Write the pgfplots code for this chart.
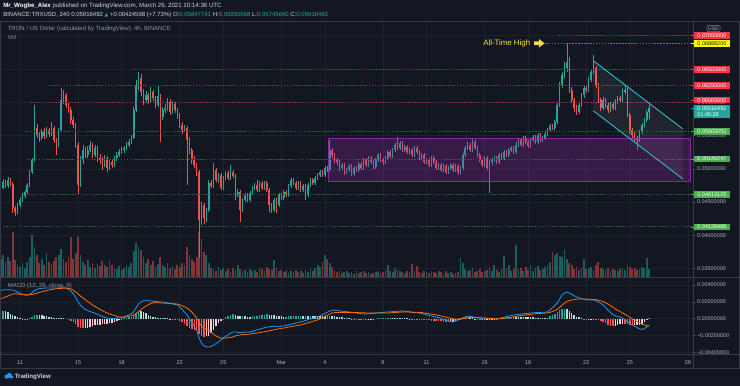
\documentclass[border=0pt]{standalone}
\usepackage{pgfplots}
\usepackage{pgfplotstable}
\pgfplotsset{compat=1.18}
\usepackage{fontspec}
\setmainfont{Liberation Sans}
\newfontfamily\dejavu{DejaVu Sans}

\definecolor{bg}{HTML}{131722}
\definecolor{gridc}{HTML}{1E222D}
\definecolor{bord}{HTML}{363A45}
\definecolor{txt}{HTML}{B2B5BE}
\definecolor{hdr}{HTML}{D1D4DC}
\definecolor{tickc}{HTML}{787B86}
\definecolor{upc}{HTML}{26A69A}
\definecolor{dnc}{HTML}{EF5350}
\definecolor{upv}{HTML}{1C5E5E}
\definecolor{dnv}{HTML}{813539}
\definecolor{macdc}{HTML}{2196F3}
\definecolor{sigc}{HTML}{FF6D00}
\definecolor{hza}{HTML}{26A69A}
\definecolor{hzb}{HTML}{B2DFDB}
\definecolor{hzc}{HTML}{FF5252}
\definecolor{hzd}{HTML}{FFCDD2}
\definecolor{redl}{HTML}{8B2E36}
\definecolor{grnl}{HTML}{2F5E3D}
\definecolor{ylwl}{HTML}{7A7A2A}
\definecolor{tagr}{HTML}{F23645}
\definecolor{tagg}{HTML}{4CAF50}
\definecolor{tagy}{HTML}{FFFF00}
\definecolor{cyanl}{HTML}{2DB7C9}
\definecolor{purp}{HTML}{9C27B0}
\definecolor{ylw}{HTML}{F2E33A}
\definecolor{logoc}{HTML}{2196F3}

\newcommand\sm{\fontsize{4.1}{5}\selectfont}

% o h l c = 4h candle (price), v = volume bar height (px), m = MACD, s = signal, k = histogram colour class
\pgfplotstableread{
o h l c v m s k
0.04757 0.04802 0.04667 0.04712 18 0.00335 0.00240 1
0.04712 0.04847 0.04690 0.04802 22 0.00342 0.00246 0
0.04802 0.04832 0.04712 0.04742 15 0.00345 0.00258 1
0.04742 0.04877 0.04712 0.04832 20 0.00345 0.00270 1
0.04832 0.04862 0.04742 0.04772 16 0.00343 0.00282 1
0.04772 0.04802 0.04337 0.04412 45 0.00342 0.00294 1
0.04412 0.04442 0.04292 0.04352 17 0.00330 0.00296 1
0.04352 0.04487 0.04322 0.04457 12 0.00315 0.00295 1
0.04457 0.04577 0.04427 0.04532 10 0.00300 0.00292 1
0.04532 0.04637 0.04502 0.04592 14 0.00290 0.00289 1
0.04592 0.04682 0.04562 0.04652 9 0.00282 0.00286 2
0.04652 0.04787 0.04622 0.04757 15 0.00280 0.00283 3
0.04757 0.04983 0.04727 0.04953 20 0.00290 0.00285 0
0.04953 0.05163 0.04923 0.05133 42 0.00310 0.00290 0
0.05133 0.05959 0.05103 0.05614 30 0.00335 0.00296 0
0.05614 0.05674 0.05463 0.05508 22 0.00350 0.00304 0
0.05508 0.05553 0.05403 0.05463 14 0.00358 0.00312 1
0.05463 0.05598 0.05433 0.05553 18 0.00362 0.00320 1
0.05553 0.05614 0.05448 0.05493 12 0.00364 0.00328 1
0.05493 0.05629 0.05463 0.05584 24 0.00366 0.00335 1
0.05584 0.05614 0.05478 0.05523 15 0.00366 0.00342 1
0.05523 0.05704 0.05493 0.05614 13 0.00366 0.00348 1
0.05614 0.05644 0.05388 0.05433 16 0.00365 0.00353 1
0.05433 0.05463 0.05208 0.05358 20 0.00366 0.00356 1
0.05358 0.05614 0.05328 0.05584 22 0.00366 0.00359 1
0.05584 0.06214 0.05553 0.06034 28 0.00368 0.00361 1
0.06034 0.06184 0.05974 0.06109 18 0.00368 0.00363 1
0.06109 0.06139 0.05914 0.05959 15 0.00365 0.00365 1
0.05959 0.06004 0.05839 0.05884 20 0.00350 0.00362 2
0.05884 0.05929 0.05674 0.05734 40 0.00330 0.00355 2
0.05734 0.05779 0.05614 0.05659 18 0.00300 0.00340 2
0.05659 0.05689 0.05313 0.05358 24 0.00250 0.00318 2
0.05358 0.05403 0.04607 0.04757 40 0.00200 0.00295 2
0.04757 0.05193 0.04727 0.05133 22 0.00160 0.00270 2
0.05133 0.05358 0.05073 0.05283 15 0.00130 0.00246 2
0.05283 0.05328 0.05163 0.05208 12 0.00110 0.00225 3
0.05208 0.05343 0.05163 0.05283 17 0.00095 0.00205 3
0.05283 0.05418 0.05253 0.05358 10 0.00085 0.00183 3
0.05358 0.05388 0.05163 0.05208 14 0.00075 0.00163 3
0.05208 0.05358 0.05178 0.05313 9 0.00066 0.00145 3
0.05313 0.05343 0.05103 0.05163 13 0.00052 0.00128 3
0.05163 0.05223 0.05073 0.05133 11 0.00040 0.00112 3
0.05133 0.05178 0.04983 0.05058 16 0.00028 0.00097 3
0.05058 0.05208 0.05028 0.05163 12 0.00016 0.00082 3
0.05163 0.05193 0.04953 0.05013 10 0.00008 0.00068 3
0.05013 0.05148 0.04983 0.05103 17 0.00004 0.00058 3
0.05103 0.05148 0.05013 0.05058 12 0.00002 0.00048 3
0.05058 0.05193 0.05028 0.05163 9 0.00003 0.00038 3
0.05163 0.05253 0.05118 0.05208 8 0.00005 0.00028 3
0.05208 0.05298 0.05178 0.05253 11 0.00008 0.00020 3
0.05253 0.05328 0.05223 0.05283 7 0.00014 0.00018 3
0.05283 0.05343 0.05238 0.05313 9 0.00022 0.00018 0
0.05313 0.05403 0.05283 0.05358 12 0.00032 0.00022 0
0.05358 0.05448 0.05328 0.05403 10 0.00045 0.00028 0
0.05403 0.05508 0.05373 0.05463 14 0.00060 0.00035 0
0.05463 0.05929 0.05448 0.05884 26 0.00085 0.00044 0
0.05884 0.06335 0.05854 0.06259 34 0.00130 0.00062 0
0.06259 0.06459 0.06184 0.06365 30 0.00175 0.00085 0
0.06365 0.06425 0.06094 0.06154 27 0.00200 0.00110 1
0.06154 0.06199 0.05959 0.06034 20 0.00212 0.00130 1
0.06034 0.06169 0.05989 0.06109 14 0.00215 0.00150 1
0.06109 0.06139 0.05974 0.06034 18 0.00213 0.00165 1
0.06034 0.06229 0.06004 0.06154 12 0.00211 0.00180 1
0.06154 0.06184 0.06019 0.06064 16 0.00208 0.00188 1
0.06064 0.06094 0.05914 0.05959 10 0.00205 0.00190 1
0.05959 0.06259 0.05929 0.06094 13 0.00203 0.00190 1
0.06094 0.06124 0.05403 0.05779 20 0.00200 0.00189 1
0.05779 0.05929 0.05734 0.05884 12 0.00199 0.00187 0
0.05884 0.05974 0.05839 0.05914 10 0.00195 0.00185 1
0.05914 0.06064 0.05869 0.06004 14 0.00188 0.00183 1
0.06004 0.06049 0.05809 0.05854 9 0.00182 0.00181 1
0.05854 0.06019 0.05824 0.05974 11 0.00176 0.00179 2
0.05974 0.06004 0.05839 0.05884 8 0.00170 0.00177 2
0.05884 0.05914 0.05749 0.05809 12 0.00163 0.00175 2
0.05809 0.05839 0.05614 0.05659 10 0.00140 0.00165 2
0.05659 0.05704 0.05523 0.05584 14 0.00110 0.00155 2
0.05584 0.05659 0.05553 0.05614 12 0.00078 0.00142 2
0.05614 0.05644 0.04757 0.05433 30 0.00044 0.00127 2
0.05433 0.05478 0.05223 0.05283 22 0.00000 0.00105 2
0.05283 0.05313 0.05073 0.05133 18 -0.00045 0.00080 2
0.05133 0.05193 0.05013 0.05058 15 -0.00090 0.00045 2
0.05058 0.05088 0.04892 0.04953 20 -0.00135 0.00008 2
0.04953 0.04983 0.03660 0.04232 45 -0.00230 -0.00051 2
0.04232 0.04502 0.04157 0.04457 38 -0.00290 -0.00085 2
0.04457 0.04487 0.04172 0.04262 25 -0.00325 -0.00110 2
0.04262 0.04412 0.04202 0.04382 22 -0.00335 -0.00125 3
0.04382 0.04832 0.04352 0.04787 14 -0.00337 -0.00135 3
0.04787 0.04832 0.04712 0.04742 9 -0.00330 -0.00160 3
0.04742 0.05088 0.04712 0.04983 8 -0.00315 -0.00185 3
0.04983 0.05013 0.04802 0.04832 6 -0.00295 -0.00205 3
0.04832 0.04937 0.04787 0.04907 10 -0.00275 -0.00220 3
0.04907 0.04937 0.04682 0.04712 7 -0.00253 -0.00230 3
0.04712 0.04892 0.04682 0.04862 9 -0.00230 -0.00232 0
0.04862 0.04968 0.04832 0.04937 6 -0.00210 -0.00230 0
0.04937 0.04968 0.04832 0.04862 8 -0.00190 -0.00226 0
0.04862 0.05058 0.04832 0.04953 5 -0.00172 -0.00222 0
0.04953 0.04983 0.04862 0.04892 9 -0.00158 -0.00218 0
0.04892 0.04922 0.04532 0.04607 7 -0.00158 -0.00205 1
0.04607 0.04697 0.04577 0.04652 12 -0.00162 -0.00198 1
0.04652 0.04682 0.04202 0.04382 8 -0.00165 -0.00193 1
0.04382 0.04562 0.04352 0.04532 6 -0.00162 -0.00190 0
0.04532 0.04637 0.04502 0.04607 7 -0.00160 -0.00187 1
0.04607 0.04637 0.04502 0.04532 5 -0.00158 -0.00184 1
0.04532 0.04667 0.04502 0.04637 8 -0.00158 -0.00182 1
0.04637 0.04742 0.04607 0.04712 6 -0.00150 -0.00178 0
0.04712 0.04787 0.04682 0.04757 7 -0.00142 -0.00174 0
0.04757 0.04832 0.04652 0.04682 5 -0.00134 -0.00170 0
0.04682 0.04817 0.04652 0.04787 9 -0.00125 -0.00165 0
0.04787 0.04817 0.04682 0.04712 8 -0.00116 -0.00160 0
0.04712 0.04817 0.04682 0.04787 6 -0.00107 -0.00155 0
0.04787 0.04817 0.04652 0.04682 10 -0.00099 -0.00150 0
0.04682 0.04712 0.04352 0.04457 8 -0.00096 -0.00144 1
0.04457 0.04487 0.04337 0.04382 7 -0.00094 -0.00138 1
0.04382 0.04562 0.04352 0.04532 17 -0.00092 -0.00132 1
0.04532 0.04562 0.04337 0.04457 9 -0.00090 -0.00126 1
0.04457 0.04637 0.04427 0.04607 6 -0.00089 -0.00120 1
0.04607 0.04637 0.04532 0.04562 7 -0.00088 -0.00115 1
0.04562 0.04682 0.04532 0.04652 5 -0.00087 -0.00111 1
0.04652 0.04682 0.04577 0.04607 6 -0.00080 -0.00106 0
0.04607 0.04772 0.04577 0.04742 4 -0.00073 -0.00100 0
0.04742 0.04862 0.04712 0.04832 6 -0.00066 -0.00095 0
0.04832 0.04862 0.04757 0.04787 5 -0.00059 -0.00090 0
0.04787 0.04817 0.04682 0.04712 7 -0.00052 -0.00084 0
0.04712 0.04817 0.04682 0.04787 5 -0.00045 -0.00079 0
0.04787 0.04817 0.04652 0.04682 6 -0.00039 -0.00075 0
0.04682 0.04772 0.04652 0.04742 4 -0.00030 -0.00066 1
0.04742 0.04772 0.04532 0.04607 7 -0.00021 -0.00058 0
0.04607 0.04787 0.04577 0.04757 5 -0.00012 -0.00049 1
0.04757 0.04862 0.04727 0.04832 8 -0.00003 -0.00041 0
0.04832 0.04862 0.04757 0.04787 6 0.00006 -0.00032 1
0.04787 0.04892 0.04757 0.04862 9 0.00013 -0.00023 1
0.04862 0.04937 0.04832 0.04907 12 0.00020 -0.00015 1
0.04907 0.04983 0.04877 0.04953 10 0.00034 -0.00001 1
0.04953 0.04983 0.04877 0.04907 15 0.00048 0.00013 1
0.04907 0.05043 0.04877 0.05013 22 0.00062 0.00027 1
0.05013 0.05043 0.04953 0.04983 18 0.00076 0.00040 0
0.04983 0.05433 0.04953 0.05283 14 0.00092 0.00055 0
0.05283 0.05313 0.05163 0.05208 10 0.00104 0.00068 1
0.05208 0.05238 0.05088 0.05133 7 0.00100 0.00072 1
0.05133 0.05163 0.05058 0.05103 5 0.00096 0.00074 1
0.05103 0.05133 0.04968 0.05013 6 0.00093 0.00075 1
0.05013 0.05088 0.04983 0.05058 4 0.00090 0.00075 1
0.05058 0.05088 0.04907 0.04953 5 0.00086 0.00075 1
0.04953 0.05013 0.04922 0.04983 6 0.00083 0.00075 1
0.04983 0.05073 0.04953 0.05043 4 0.00080 0.00075 1
0.05043 0.05073 0.04892 0.04922 5 0.00076 0.00074 1
0.04922 0.05043 0.04892 0.05013 3 0.00072 0.00074 2
0.05013 0.05043 0.04953 0.04983 6 0.00068 0.00073 2
0.04983 0.05103 0.04953 0.05073 4 0.00064 0.00072 2
0.05073 0.05103 0.04983 0.05013 5 0.00060 0.00071 2
0.05013 0.05163 0.04983 0.05133 6 0.00058 0.00070 2
0.05133 0.05163 0.05028 0.05058 4 0.00056 0.00069 2
0.05058 0.05193 0.05028 0.05163 5 0.00058 0.00068 3
0.05163 0.05193 0.05073 0.05103 3 0.00061 0.00067 3
0.05103 0.05133 0.04998 0.05028 4 0.00064 0.00067 3
0.05028 0.05163 0.04998 0.05133 5 0.00067 0.00067 3
0.05133 0.05238 0.05103 0.05208 6 0.00070 0.00067 0
0.05208 0.05238 0.05103 0.05133 4 0.00073 0.00067 0
0.05133 0.05163 0.05058 0.05103 5 0.00076 0.00068 0
0.05103 0.05193 0.05073 0.05163 7 0.00078 0.00068 0
0.05163 0.05283 0.05133 0.05253 12 0.00080 0.00068 0
0.05253 0.05283 0.05163 0.05193 6 0.00082 0.00070 1
0.05193 0.05313 0.05163 0.05283 5 0.00084 0.00072 1
0.05283 0.05388 0.05253 0.05358 8 0.00086 0.00074 1
0.05358 0.05478 0.05283 0.05313 7 0.00088 0.00076 1
0.05313 0.05418 0.05283 0.05388 6 0.00090 0.00078 1
0.05388 0.05418 0.05253 0.05283 5 0.00092 0.00080 1
0.05283 0.05358 0.05253 0.05328 4 0.00089 0.00080 1
0.05328 0.05358 0.05223 0.05253 6 0.00085 0.00080 1
0.05253 0.05313 0.05223 0.05283 5 0.00081 0.00079 1
0.05283 0.05313 0.05178 0.05208 13 0.00077 0.00078 2
0.05208 0.05343 0.05178 0.05313 6 0.00073 0.00077 2
0.05313 0.05343 0.05223 0.05253 11 0.00070 0.00076 2
0.05253 0.05283 0.05133 0.05163 5 0.00068 0.00075 2
0.05163 0.05238 0.05133 0.05208 4 0.00061 0.00072 2
0.05208 0.05238 0.05073 0.05103 6 0.00054 0.00069 2
0.05103 0.05163 0.05073 0.05133 5 0.00047 0.00065 2
0.05133 0.05163 0.05028 0.05058 4 0.00040 0.00060 2
0.05058 0.05193 0.05028 0.05163 6 0.00033 0.00055 2
0.05163 0.05193 0.05073 0.05103 5 0.00026 0.00050 2
0.05103 0.05133 0.04983 0.05013 4 0.00020 0.00045 2
0.05013 0.05088 0.04983 0.05058 6 0.00011 0.00039 2
0.05058 0.05088 0.04953 0.04983 5 0.00002 0.00033 2
0.04983 0.05073 0.04953 0.05043 3 -0.00008 0.00026 2
0.05043 0.05073 0.04922 0.04953 6 -0.00018 0.00019 2
0.04953 0.05043 0.04922 0.05013 4 -0.00027 0.00012 2
0.05013 0.05088 0.04983 0.05058 5 -0.00034 0.00005 3
0.05058 0.05088 0.04953 0.04983 3 -0.00039 -0.00002 3
0.04983 0.05073 0.04953 0.05043 4 -0.00027 -0.00004 3
0.05043 0.05073 0.04907 0.04953 5 -0.00015 -0.00003 3
0.04953 0.05043 0.04922 0.05013 19 -0.00003 -0.00002 3
0.05013 0.05238 0.04983 0.05208 14 0.00009 0.00000 0
0.05208 0.05343 0.05178 0.05313 8 0.00021 0.00004 0
0.05313 0.05403 0.05283 0.05358 6 0.00032 0.00009 0
0.05358 0.05388 0.05253 0.05283 7 0.00027 0.00012 1
0.05283 0.05448 0.05253 0.05403 9 0.00022 0.00014 1
0.05403 0.05433 0.05283 0.05313 5 0.00017 0.00015 1
0.05313 0.05343 0.05178 0.05208 6 0.00012 0.00014 2
0.05208 0.05238 0.05103 0.05133 8 0.00008 0.00012 2
0.05133 0.05163 0.05028 0.05058 5 0.00006 0.00010 2
0.05058 0.05193 0.05028 0.05163 6 0.00004 0.00008 3
0.05163 0.05193 0.04983 0.05013 7 0.00002 0.00006 3
0.05013 0.05133 0.04637 0.05103 10 0.00000 0.00004 3
0.05103 0.05163 0.05058 0.05133 6 -0.00002 0.00002 3
0.05133 0.05193 0.05103 0.05163 12 -0.00003 0.00000 3
0.05163 0.05193 0.05073 0.05103 7 -0.00004 -0.00002 3
0.05103 0.05238 0.05073 0.05208 5 0.00003 -0.00001 0
0.05208 0.05238 0.05133 0.05163 8 0.00010 0.00001 0
0.05163 0.05283 0.05133 0.05253 21 0.00017 0.00004 0
0.05253 0.05283 0.05178 0.05208 9 0.00024 0.00008 0
0.05208 0.05313 0.05178 0.05283 12 0.00031 0.00012 0
0.05283 0.05343 0.05253 0.05313 6 0.00038 0.00017 0
0.05313 0.05343 0.05223 0.05253 8 0.00044 0.00022 0
0.05253 0.05403 0.05223 0.05358 32 0.00048 0.00027 1
0.05358 0.05463 0.05328 0.05433 8 0.00052 0.00032 1
0.05433 0.05463 0.05328 0.05358 9 0.00055 0.00037 1
0.05358 0.05493 0.05328 0.05463 6 0.00059 0.00041 1
0.05463 0.05493 0.05373 0.05403 10 0.00062 0.00045 1
0.05403 0.05433 0.05313 0.05343 7 0.00065 0.00049 1
0.05343 0.05463 0.05313 0.05433 12 0.00068 0.00052 1
0.05433 0.05508 0.05403 0.05478 6 0.00070 0.00055 1
0.05478 0.05508 0.05373 0.05403 9 0.00072 0.00058 1
0.05403 0.05538 0.05373 0.05508 11 0.00074 0.00061 1
0.05508 0.05538 0.05403 0.05433 7 0.00075 0.00063 1
0.05433 0.05493 0.05403 0.05463 8 0.00077 0.00065 1
0.05463 0.05553 0.05433 0.05523 10 0.00078 0.00067 1
0.05523 0.05614 0.05493 0.05584 12 0.00080 0.00069 1
0.05584 0.05674 0.05553 0.05644 15 0.00105 0.00076 0
0.05644 0.05674 0.05584 0.05614 25 0.00130 0.00085 0
0.05614 0.05734 0.05584 0.05704 22 0.00158 0.00097 0
0.05704 0.05989 0.05674 0.05959 24 0.00187 0.00110 0
0.05959 0.06305 0.05929 0.06259 21 0.00235 0.00135 0
0.06259 0.06455 0.06214 0.06410 20 0.00282 0.00163 0
0.06410 0.06605 0.06365 0.06515 27 0.00305 0.00185 0
0.06515 0.06888 0.06455 0.06605 18 0.00318 0.00205 1
0.06605 0.06680 0.06139 0.06184 14 0.00305 0.00215 1
0.06184 0.06229 0.05989 0.06034 12 0.00290 0.00222 1
0.06034 0.06064 0.05854 0.05914 8 0.00274 0.00228 1
0.05914 0.05959 0.05809 0.05854 10 0.00258 0.00232 1
0.05854 0.06004 0.05824 0.05959 7 0.00249 0.00234 1
0.05959 0.06139 0.05929 0.06109 9 0.00240 0.00235 1
0.06109 0.06259 0.06064 0.06214 18 0.00232 0.00235 2
0.06214 0.06259 0.06139 0.06184 8 0.00223 0.00234 2
0.06184 0.06380 0.06154 0.06335 9 0.00223 0.00232 3
0.06335 0.06500 0.06305 0.06455 10 0.00223 0.00230 3
0.06455 0.06710 0.06425 0.06515 7 0.00223 0.00228 3
0.06515 0.06545 0.06214 0.06259 12 0.00215 0.00226 2
0.06259 0.06289 0.05989 0.06034 15 0.00200 0.00220 2
0.06034 0.06064 0.05869 0.05914 9 0.00183 0.00213 2
0.05914 0.06079 0.05884 0.06034 8 0.00163 0.00203 2
0.06034 0.06064 0.05914 0.05959 7 0.00133 0.00190 2
0.05959 0.05989 0.05839 0.05884 9 0.00103 0.00174 2
0.05884 0.06004 0.05854 0.05974 6 0.00074 0.00156 2
0.05974 0.06004 0.05884 0.05914 8 0.00050 0.00137 2
0.05914 0.06049 0.05884 0.06004 7 0.00035 0.00117 3
0.06004 0.06094 0.05974 0.06064 6 0.00026 0.00100 3
0.06064 0.06094 0.05989 0.06034 8 0.00017 0.00084 3
0.06034 0.06199 0.06004 0.06154 9 0.00008 0.00069 3
0.06154 0.06259 0.06124 0.06184 7 -0.00013 0.00052 2
0.06184 0.06214 0.05779 0.05809 12 -0.00034 0.00034 2
0.05809 0.05839 0.05523 0.05584 10 -0.00055 0.00015 2
0.05584 0.05614 0.05463 0.05508 8 -0.00075 -0.00002 2
0.05508 0.05553 0.05403 0.05463 9 -0.00090 -0.00018 3
0.05463 0.05493 0.05283 0.05433 7 -0.00105 -0.00034 3
0.05433 0.05584 0.05403 0.05553 8 -0.00120 -0.00050 3
0.05553 0.05689 0.05523 0.05659 10 -0.00130 -0.00065 3
0.05659 0.05764 0.05629 0.05734 9 -0.00117 -0.00075 3
0.05734 0.05884 0.05704 0.05854 19 -0.00099 -0.00082 3
0.05848 0.05956 0.05746 0.05916 8 -0.00082 -0.00086 0
}\data
\pgfplotstablecreatecol[create col/expr={8.6667+\pgfplotstablerow/6}]{t}\data

\pgfplotsset{
  pane/.style={scale only axis, width=519.75pt, xmin=8.623, xmax=56.35, anchor=south west},
  mainy/.style={ymin=0.03375, ymax=0.07221},
  isup/.style={restrict expr to domain={\thisrow{c}-\thisrow{o}}{0:1}},
  isdn/.style={restrict expr to domain={\thisrow{c}-\thisrow{o}}{-1:-0.0000001}},
  ebar/.style 2 args={draw=none, mark=none, error bars/y dir=plus, error bars/y explicit,
     error bars/error mark=none, error bars/error bar style={draw=#1, line width=#2}},
  dates/.style={xtick={10,14,17,21,24,28,31,35,38,42,45,49,52,56}},
  rlabels/.style={ytick pos=right, yticklabel pos=right, tick align=outside, major tick length=1.6pt,
     ytick style={draw=tickc, line width=0.4pt}, xtick style={draw=none}, scaled y ticks=false,
     yticklabel style={font=\sm, text=txt, anchor=west, inner sep=0pt, xshift=1.2pt},
     grid=major, major grid style={draw=gridc, line width=0.5pt}, axis line style={draw=none}},
}

\newcommand\ptag[4]{%
  \draw[#1, line width=0.5pt] (690.5,#2) -- (694,#2);
  \node[fill=#1, text=#4, anchor=west, font=\sm, inner xsep=2.7pt, inner ysep=0pt, minimum height=4.8pt] at (693.6,#2) {#3};}

\begin{document}
\begin{tikzpicture}[x=0.75pt, y=0.75pt]
\fill[bg] (0,0) rectangle (740,386);

% ---- main pane: grid and price scale
\begin{axis}[pane, mainy, at={(0pt,81.75pt)}, height=192pt, dates, xticklabel=\empty,
  ytick={0.035,0.04,0.045,0.05,0.055,0.06,0.065,0.07},
  yticklabels={0.03500000,0.04000000,0.04500000,0.05000000,0.05500000,0.06000000,0.06500000,0.07000000},
  rlabels]
\addplot[draw=none] coordinates {(20,0.05)};
\end{axis}

% ---- volume overlay
\begin{axis}[pane, at={(0pt,81.75pt)}, height=192pt, ymin=0, ymax=256, hide axis]
\addplot[isup, ebar={upv}{1.3pt}] table[x=t, y expr=0, y error=v] {\data};
\addplot[isdn, ebar={dnv}{1.3pt}] table[x=t, y expr=0, y error=v] {\data};
\end{axis}

% ---- candles and drawings
\begin{axis}[pane, mainy, at={(0pt,81.75pt)}, height=192pt, hide axis]
\addplot[isup, ebar={upc}{0.5pt}] table[x=t, y=l, y error expr=\thisrow{h}-\thisrow{l}] {\data};
\addplot[isdn, ebar={dnc}{0.5pt}] table[x=t, y=l, y error expr=\thisrow{h}-\thisrow{l}] {\data};
\addplot[isup, ebar={upc}{1.15pt}] table[x=t, y expr={min(\thisrow{o},\thisrow{c})}, y error expr={max(abs(\thisrow{c}-\thisrow{o}),0.00005)}] {\data};
\addplot[isdn, ebar={dnc}{1.15pt}] table[x=t, y expr={min(\thisrow{o},\thisrow{c})}, y error expr={max(abs(\thisrow{c}-\thisrow{o}),0.00005)}] {\data};
% horizontal levels
\addplot[redl, line width=0.6pt, dash pattern=on 1.2pt off 1pt] coordinates {(47.05,0.07) (56.35,0.07)};
\addplot[redl, line width=0.6pt, dash pattern=on 1.2pt off 1pt] coordinates {(17.78,0.065) (56.35,0.065)};
\addplot[redl, line width=0.6pt, dash pattern=on 1.2pt off 1pt] coordinates {(12.0,0.0625) (56.35,0.0625)};
\addplot[redl, line width=0.6pt, dash pattern=on 1.2pt off 1pt] coordinates {(10.69,0.06) (56.35,0.06)};
\addplot[ylwl, line width=0.6pt, dash pattern=on 1.2pt off 1pt] coordinates {(46.02,0.068882) (56.35,0.068882)};
\addplot[grnl, line width=0.6pt, dash pattern=on 1.2pt off 1pt] coordinates {(10.34,0.05563052) (56.35,0.05563052)};
\addplot[grnl, line width=0.6pt, dash pattern=on 1.2pt off 1pt] coordinates {(10.48,0.05146247) (56.35,0.05146247)};
\addplot[grnl, line width=0.6pt, dash pattern=on 1.2pt off 1pt] coordinates {(10.55,0.04613125) (56.35,0.04613125)};
\addplot[grnl, line width=0.6pt, dash pattern=on 1.2pt off 1pt] coordinates {(8.83,0.04128468) (56.35,0.04128468)};
% consolidation box
\addplot[draw=purp, draw opacity=0.85, line width=0.6pt, fill=purp, fill opacity=0.25] coordinates {(31.21,0.04807) (56.14,0.04807) (56.14,0.05459) (31.21,0.05459)} -- cycle;
% descending channel
\addplot[draw=none, fill=white, fill opacity=0.06] coordinates {(49.48,0.06624) (55.66,0.05598) (55.66,0.04847) (49.48,0.05873)} -- cycle;
\addplot[cyanl, line width=0.7pt] coordinates {(49.48,0.06624) (55.66,0.05598)};
\addplot[cyanl, line width=0.7pt] coordinates {(49.48,0.05873) (55.66,0.04847)};
\end{axis}

% ---- MACD pane
\begin{axis}[pane, at={(0pt,24pt)}, height=57.75pt, ymin=-0.004202, ymax=0.004964, dates,
  xticklabels={11,15,18,22,25,Mar,4,8,11,15,18,22,25,29},
  xticklabel style={font=\sm, text=txt, anchor=center, yshift=-4.9pt},
  ytick={-0.004,-0.002,0,0.002,0.004},
  yticklabels={−0.00400000,−0.00200000,0.00000000,0.00200000,0.00400000},
  rlabels]
\addplot[restrict expr to domain={\thisrow{k}}{-0.1:0.1}, ebar={hza}{1.1pt}] table[x=t, y expr={min(0,\thisrow{m}-\thisrow{s})}, y error expr={abs(\thisrow{m}-\thisrow{s})}] {\data};
\addplot[restrict expr to domain={\thisrow{k}}{0.9:1.1}, ebar={hzb}{1.1pt}] table[x=t, y expr={min(0,\thisrow{m}-\thisrow{s})}, y error expr={abs(\thisrow{m}-\thisrow{s})}] {\data};
\addplot[restrict expr to domain={\thisrow{k}}{1.9:2.1}, ebar={hzc}{1.1pt}] table[x=t, y expr={min(0,\thisrow{m}-\thisrow{s})}, y error expr={abs(\thisrow{m}-\thisrow{s})}] {\data};
\addplot[restrict expr to domain={\thisrow{k}}{2.9:3.1}, ebar={hzd}{1.1pt}] table[x=t, y expr={min(0,\thisrow{m}-\thisrow{s})}, y error expr={abs(\thisrow{m}-\thisrow{s})}] {\data};
\addplot[macdc, line width=0.6pt] table[x=t, y=m] {\data};
\addplot[sigc, line width=0.6pt] table[x=t, y=s] {\data};
\end{axis}

% ---- frame
\draw[bord, line width=0.6pt] (0.3,18) -- (0.3,365) -- (739.7,365) -- (739.7,18) -- cycle;
\draw[bord, line width=0.6pt] (693,18) -- (693,365);
\draw[bord, line width=0.6pt] (0,109) -- (740,109);
\draw[bord, line width=0.6pt] (0,32) -- (740,32);

% ---- price tags
\ptag{tagr}{350.3}{0.07000000}{white}
\ptag{tagy}{342.6}{0.06888200}{bg}
\ptag{tagr}{316.5}{0.06500000}{white}
\ptag{tagr}{300.4}{0.06250000}{white}
\ptag{tagr}{285.7}{0.06000000}{white}
\draw[upc, line width=0.5pt] (690.5,277.5) -- (694,277.5);
\node[fill=upc, text=white, anchor=west, font=\sm, inner xsep=2.7pt, inner ysep=0.9pt, align=left] at (693.6,274.5) {0.05916492\\[-0.4pt]01:45:28};
\ptag{tagg}{254.6}{0.05563052}{white}
\ptag{tagg}{226.9}{0.05146247}{white}
\ptag{tagg}{191.4}{0.04613125}{white}
\ptag{tagg}{159.1}{0.04128468}{white}
\node[draw=tickc, rounded corners=1pt, text=txt, font=\fontsize{3.8}{4}\selectfont, inner sep=1pt] at (713.5,357.5) {USD};

% ---- texts
\node[anchor=west, inner sep=0pt, text=hdr, font=\fontsize{4.6}{5.5}\selectfont] at (3,380) {{\color{white}\bfseries Mr\_Wogbe\_Alex} published on TradingView.com, March 26, 2021 10:14:36 UTC};
\node[anchor=west, inner sep=0pt, text=hdr, font=\fontsize{4.5}{5.5}\selectfont] at (3,371) {BINANCE:TRXUSD, 240 0.05916492 {\dejavu\fontsize{3.6}{4}\selectfont\color{upc}▲} +0.00424598 (+7.73\%) O:{\color{upc}0.05847741} H:{\color{upc}0.05955568} L:{\color{upc}0.05745600} C:{\color{upc}0.05916492}};
\node[anchor=west, inner sep=0pt, text=txt!80!bg, font=\fontsize{4.5}{5.5}\selectfont] at (7.5,357) {TRON / US Dollar (calculated by TradingView), 4h, BINANCE};
\node[anchor=west, inner sep=0pt, text=txt!80!bg, font=\fontsize{4.5}{5.5}\selectfont] at (7.5,348.7) {Vol};
\node[anchor=west, inner sep=0pt, text=txt!80!bg, font=\fontsize{4.5}{5.5}\selectfont] at (7.5,100) {MACD (12, 26, close, 9)};
\node[anchor=west, inner sep=0pt, text=ylw, font=\fontsize{5.9}{7}\selectfont] at (483,342.7) {All-Time High};
\fill[ylw] (534,344.5) -- (539,344.5) -- (539,347) -- (544.5,342.7) -- (539,338.4) -- (539,340.9) -- (534,340.9) -- cycle;

% ---- TradingView logo
\fill[logoc] (5.5,7.5) rectangle (12.5,9.5);
\fill[logoc] (6.5,9.3) circle (2);
\fill[logoc] (9.3,10.6) circle (2.5);
\fill[logoc] (11.6,9.1) circle (1.8);
\node[anchor=west, inner sep=0pt, text=hdr, font=\fontsize{4.6}{5.5}\selectfont\bfseries] at (14.5,9.3) {TradingView};

\pgfresetboundingbox
\useasboundingbox (0,0) rectangle (740,386);
\end{tikzpicture}
\end{document}
